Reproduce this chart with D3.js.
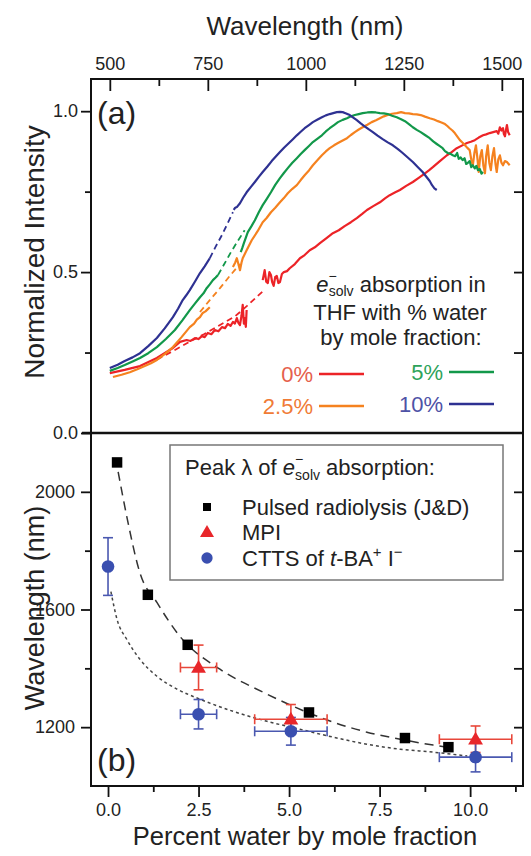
<!DOCTYPE html>
<html><head><meta charset="utf-8">
<script src="https://cdn.jsdelivr.net/npm/d3@7/dist/d3.min.js"></script>
<style>
body{margin:0;background:#fff;}
svg{display:block;font-family:"Liberation Sans",Arial,Helvetica,sans-serif;}
</style></head><body>
<svg id="chart" width="531" height="856"></svg>
<script>
// ---------- Panel (a) data: [wavelength nm, normalized intensity] ----------
const topTicks = [500, 750, 1000, 1250, 1500];
const topMinorTicks = [625, 875, 1125, 1375];
const intensityTicks = [0.0, 0.5, 1.0];
const intensityMinorTicks = [0.25, 0.75];

const red0Solid1 = [[500,0.186],[538,0.196],[577,0.208],[620,0.233],[661,0.264],[679,0.283],[696,0.289],[706,0.286],[717,0.295],[726,0.292],[735,0.301],[742,0.298],[750,0.311],[759,0.307],[768,0.320],[777,0.316],[786,0.329],[794,0.326],[801,0.339],[808,0.333],[814,0.345],[819,0.340],[824,0.357],[828,0.342],[832,0.335],[836,0.365],[839,0.398],[842,0.340],[844,0.357],[847,0.330],[849,0.382]];
const red0Solid2 = [[890,0.475],[895,0.506],[899,0.470],[903,0.466],[907,0.500],[911,0.491],[914,0.470],[918,0.457],[922,0.485],[926,0.488],[930,0.466],[934,0.469],[939,0.494],[944,0.500],[952,0.503],[959,0.512],[972,0.525],[985,0.543],[997,0.553],[1010,0.568],[1023,0.577],[1036,0.590],[1052,0.605],[1069,0.621],[1084,0.630],[1099,0.643],[1115,0.655],[1130,0.668],[1143,0.680],[1156,0.693],[1172,0.705],[1189,0.717],[1202,0.729],[1214,0.739],[1227,0.747],[1240,0.755],[1256,0.768],[1273,0.780],[1288,0.793],[1304,0.807],[1314,0.816],[1324,0.826],[1342,0.845],[1360,0.863],[1372,0.873],[1385,0.885],[1398,0.893],[1411,0.901],[1421,0.905],[1431,0.910],[1441,0.918],[1452,0.925],[1460,0.928],[1469,0.932],[1478,0.935],[1487,0.938],[1491,0.930],[1495,0.950],[1499,0.940],[1503,0.947],[1505,0.930],[1508,0.922],[1511,0.945],[1513,0.957],[1516,0.935],[1520,0.925]];
const red0Dashed = [[620,0.228],[660,0.254],[700,0.281],[740,0.307],[780,0.335],[820,0.363],[850,0.395],[890,0.440]];

const orange25Solid1 = [[508,0.174],[530,0.181],[551,0.189],[570,0.198],[589,0.208],[605,0.217],[620,0.227],[640,0.245],[661,0.267],[683,0.298],[704,0.329],[715,0.340],[722,0.352],[730,0.360],[737,0.373],[744,0.378],[750,0.385],[755,0.391]];
const orange25Solid2 = [[814,0.516],[820,0.530],[824,0.543],[828,0.525],[832,0.506],[836,0.530],[839,0.543],[849,0.568],[862,0.599],[877,0.627],[890,0.655],[900,0.668],[911,0.686],[922,0.700],[934,0.717],[944,0.730],[954,0.745],[965,0.758],[977,0.770],[987,0.786],[997,0.801],[1008,0.816],[1018,0.832],[1030,0.848],[1041,0.863],[1051,0.875],[1061,0.885],[1072,0.894],[1082,0.901],[1094,0.909],[1105,0.916],[1115,0.926],[1125,0.935],[1135,0.943],[1145,0.950],[1157,0.958],[1168,0.966],[1179,0.972],[1189,0.978],[1199,0.984],[1209,0.988],[1220,0.992],[1232,0.994],[1243,0.997],[1253,0.994],[1263,0.993],[1273,0.991],[1283,0.990],[1293,0.988],[1304,0.983],[1316,0.978],[1327,0.974],[1337,0.969],[1346,0.965],[1355,0.960],[1361,0.954],[1367,0.947],[1374,0.940],[1380,0.932],[1387,0.920],[1393,0.910],[1400,0.902],[1406,0.894],[1412,0.886],[1418,0.879],[1422,0.850],[1426,0.832],[1430,0.870],[1434,0.894],[1438,0.850],[1441,0.811],[1445,0.860],[1449,0.879],[1453,0.830],[1457,0.807],[1460,0.860],[1464,0.894],[1468,0.840],[1472,0.817],[1476,0.860],[1480,0.885],[1484,0.835],[1487,0.811],[1491,0.850],[1495,0.863],[1499,0.840],[1503,0.832],[1508,0.845],[1513,0.842],[1520,0.832]];
const orange25Dashed = [[730,0.376],[755,0.413],[781,0.450],[806,0.488],[832,0.525]];

const green5Solid1 = [[500,0.193],[520,0.202],[538,0.211],[558,0.222],[577,0.233],[598,0.248],[620,0.267],[643,0.292],[666,0.320],[685,0.350],[704,0.382],[717,0.402],[730,0.422],[739,0.434],[747,0.450],[755,0.462],[763,0.475],[770,0.483],[776,0.491]];
const green5Solid2 = [[834,0.562],[838,0.575],[842,0.590],[847,0.607],[852,0.624],[861,0.642],[870,0.661],[880,0.686],[890,0.708],[900,0.727],[911,0.748],[922,0.771],[934,0.792],[944,0.808],[954,0.823],[965,0.839],[977,0.854],[987,0.867],[997,0.879],[1008,0.892],[1018,0.904],[1030,0.915],[1041,0.925],[1051,0.937],[1061,0.947],[1072,0.957],[1082,0.966],[1094,0.973],[1105,0.978],[1115,0.984],[1125,0.988],[1135,0.991],[1145,0.994],[1157,0.996],[1168,0.997],[1179,0.996],[1189,0.994],[1199,0.993],[1209,0.991],[1220,0.986],[1232,0.981],[1243,0.975],[1253,0.969],[1263,0.960],[1273,0.950],[1283,0.942],[1293,0.935],[1304,0.926],[1316,0.916],[1325,0.906],[1334,0.898],[1341,0.892],[1349,0.885],[1355,0.876],[1362,0.870],[1368,0.868],[1375,0.863],[1381,0.860],[1386,0.870],[1390,0.852],[1395,0.856],[1400,0.848],[1405,0.854],[1409,0.836],[1413,0.839],[1418,0.845],[1422,0.826],[1426,0.832],[1431,0.822],[1435,0.830],[1439,0.817],[1444,0.820],[1448,0.806],[1452,0.811]];
const green5Dashed = [[776,0.491],[792,0.525],[809,0.562],[826,0.596],[844,0.630]];

const blue10Solid1 = [[500,0.202],[520,0.212],[538,0.224],[558,0.235],[577,0.248],[598,0.270],[620,0.295],[640,0.325],[661,0.360],[674,0.386],[686,0.413],[695,0.428],[704,0.444],[717,0.470],[730,0.497],[742,0.518],[755,0.543]];
const blue10Solid2 = [[816,0.693],[820,0.700],[824,0.702],[832,0.714],[840,0.731],[849,0.748],[860,0.765],[870,0.780],[880,0.796],[890,0.811],[902,0.828],[913,0.845],[924,0.860],[934,0.873],[945,0.887],[957,0.901],[967,0.913],[977,0.925],[987,0.936],[997,0.947],[1008,0.957],[1018,0.966],[1030,0.974],[1041,0.981],[1051,0.987],[1061,0.991],[1070,0.994],[1079,0.997],[1087,0.998],[1094,0.997],[1103,0.993],[1112,0.988],[1121,0.980],[1130,0.972],[1140,0.962],[1150,0.953],[1160,0.944],[1171,0.935],[1183,0.924],[1196,0.913],[1209,0.903],[1222,0.894],[1235,0.882],[1247,0.870],[1260,0.856],[1273,0.842],[1286,0.826],[1298,0.811],[1307,0.797],[1316,0.783],[1322,0.770],[1328,0.760],[1334,0.755]];
const blue10Dashed = [[755,0.543],[770,0.579],[786,0.615],[800,0.650],[814,0.686]];

const legendLabelsA = ["0%", "2.5%", "5%", "10%"];

// ---------- Panel (b) data ----------
const waterTicks = [0, 2.5, 5, 7.5, 10];
const waterMinorTicks = [1.25, 3.75, 6.25, 8.75, 11.25];
const peakTicks = [1200, 1600, 2000];
const peakMinorTicks = [1400, 1800];

const radiolysisX = [0.25, 1.1, 2.2, 5.55, 8.2, 9.4];
const radiolysisY = [2100, 1650, 1480, 1250, 1163, 1132];
const mpiX = [2.5, 5.05, 10.15];
const mpiY = [1403, 1227, 1159];
const mpiXErr = [0.5, 1.0, 1.0];
const mpiYErr = [76, 50, 45];
const cttsX = [0.0, 2.5, 5.05, 10.15];
const cttsY = [1746, 1244, 1186, 1098];
const cttsXErr = [0, 0.5, 1.0, 1.0];
const cttsYErr = [98, 50, 47, 50];
const fitRadiolysisX = [0.28, 0.52, 0.88, 1.35, 1.99, 3.09, 4.28, 5.11, 6.22, 7.15, 8.07, 8.98, 9.36];
const fitRadiolysisY = [2068, 1915, 1725, 1624, 1508, 1397, 1319, 1271, 1217, 1183, 1159, 1139, 1132];
const fitCttsX = [0.08, 0.25, 0.52, 0.88, 1.35, 1.91, 2.54, 3.45, 4.39, 5.30, 6.22, 7.15, 8.07, 8.98, 9.92];
const fitCttsY = [1661, 1566, 1498, 1431, 1373, 1329, 1295, 1254, 1220, 1193, 1166, 1142, 1125, 1115, 1102];
const legendLabelsB = ["Pulsed radiolysis (J&D)", "MPI"];

// ---------- Layout ----------
const L = 91, R = 523, T = 79, MID = 433, B = 786;
const C = {red:"#ec2327", orange:"#f5821f", green:"#12984a", blue:"#2e3192",
           redTxt:"#e5604c", orangeTxt:"#f07b36", greenTxt:"#2ea35a", blueTxt:"#4e52a6",
           mpi:"#e8262a", mpiErr:"#e8473a", ctts:"#3a4fb0", cttsErr:"#4a58b0"};

const svg = d3.select("#chart");
const xTop = d3.scaleLinear().domain([452, 1554]).range([L, R]);
const yA = d3.scaleLinear().domain([0, 1.1]).range([MID, T]);
const xB = d3.scaleLinear().domain([-0.47, 11.46]).range([L, R]);
const yB = d3.scaleLinear().domain([1000, 2200]).range([B, MID]);

function styleAxis(g, fs) {
  g.select(".domain").remove();
  g.selectAll(".tick line").attr("stroke", "#111").attr("stroke-width", 1.8);
  g.selectAll(".tick text").attr("fill", "#222").attr("font-size", fs).attr("font-family", "Liberation Sans, Arial, sans-serif");
}

// ---- Panel (a) axes ----
svg.append("g").attr("transform", `translate(0,${T})`)
  .call(d3.axisTop(xTop).tickValues(topTicks).tickSize(-12).tickPadding(9).tickFormat(d3.format("d")))
  .call(g => styleAxis(g, 18));
svg.append("g").attr("transform", `translate(0,${T})`)
  .call(d3.axisTop(xTop).tickValues(topMinorTicks).tickSize(-7).tickFormat(""))
  .call(g => styleAxis(g, 18));
svg.append("g").attr("transform", `translate(${L},0)`)
  .call(d3.axisLeft(yA).tickValues(intensityTicks).tickSize(10).tickPadding(3).tickFormat(d3.format(".1f")))
  .call(g => styleAxis(g, 18));
svg.append("g").attr("transform", `translate(${L},0)`)
  .call(d3.axisLeft(yA).tickValues(intensityMinorTicks).tickSize(6).tickFormat(""))
  .call(g => styleAxis(g, 18));
svg.append("g").attr("transform", `translate(${R},0)`)
  .call(d3.axisRight(yA).tickValues(intensityTicks.concat(intensityMinorTicks).filter(d => d > 0)).tickSize(-9).tickFormat(""))
  .call(g => styleAxis(g, 18));

// ---- Panel (b) axes ----
svg.append("g").attr("transform", `translate(0,${B})`)
  .call(d3.axisBottom(xB).tickValues(waterTicks).tickSize(11).tickPadding(6).tickFormat(d3.format(".1f")))
  .call(g => styleAxis(g, 18));
svg.append("g").attr("transform", `translate(0,${B})`)
  .call(d3.axisBottom(xB).tickValues(waterMinorTicks).tickSize(6).tickFormat(""))
  .call(g => styleAxis(g, 18));
svg.append("g").attr("transform", `translate(${L},0)`)
  .call(d3.axisLeft(yB).tickValues(peakTicks).tickSize(10).tickPadding(6).tickFormat(d3.format("d")))
  .call(g => styleAxis(g, 18));
svg.append("g").attr("transform", `translate(${L},0)`)
  .call(d3.axisLeft(yB).tickValues(peakMinorTicks).tickSize(6).tickFormat(""))
  .call(g => styleAxis(g, 18));
svg.append("g").attr("transform", `translate(${R},0)`)
  .call(d3.axisRight(yB).tickValues(peakTicks.concat(peakMinorTicks)).tickSize(-9).tickFormat(""))
  .call(g => styleAxis(g, 18));

// ---- Panel (a) curves ----
const lineA = d3.line().x(d => xTop(d[0])).y(d => yA(d[1]));
const gA = svg.append("g");
const spectra = [
  {c:C.red, solid:[red0Solid1, red0Solid2], dashed:red0Dashed},
  {c:C.orange, solid:[orange25Solid1, orange25Solid2], dashed:orange25Dashed},
  {c:C.green, solid:[green5Solid1, green5Solid2], dashed:green5Dashed},
  {c:C.blue, solid:[blue10Solid1, blue10Solid2], dashed:blue10Dashed}
];
spectra.forEach(s => {
  gA.append("path").attr("d", lineA(s.dashed)).attr("fill", "none").attr("stroke", s.c)
    .attr("stroke-width", 1.8).attr("stroke-dasharray", "6,4");
});
spectra.forEach(s => {
  s.solid.forEach(seg => {
    gA.append("path").attr("d", lineA(seg)).attr("fill", "none").attr("stroke", s.c)
      .attr("stroke-width", 2.2).attr("stroke-linejoin", "round");
  });
});

// Legend text (a)
const ta = svg.append("g").attr("font-size", 22).attr("fill", "#222").attr("text-anchor", "middle");
const l1 = ta.append("text").attr("x", 401).attr("y", 292);
l1.append("tspan").attr("font-style", "italic").text("e");
l1.append("tspan").attr("font-size", 14).attr("dy", -11).text("\u2212");
l1.append("tspan").attr("font-size", 14).attr("dx", "-0.584em").attr("dy", 15).text("solv");
l1.append("tspan").attr("dy", -4).text(" absorption in");
ta.append("text").attr("x", 400).attr("y", 320).text("THF with % water");
ta.append("text").attr("x", 401).attr("y", 345).text("by mole fraction:");

const legA = [
  {t:legendLabelsA[0], c:C.red, tc:C.redTxt, x:313, y:374},
  {t:legendLabelsA[1], c:C.orange, tc:C.orangeTxt, x:313, y:406},
  {t:legendLabelsA[2], c:C.green, tc:C.greenTxt, x:443, y:372},
  {t:legendLabelsA[3], c:C.blue, tc:C.blueTxt, x:443, y:404}
];
legA.forEach(d => {
  svg.append("text").attr("x", d.x).attr("y", d.y + 8).attr("text-anchor", "end")
    .attr("font-size", 22).attr("fill", d.tc).text(d.t);
  svg.append("line").attr("x1", d.x + 6).attr("x2", d.x + 51).attr("y1", d.y).attr("y2", d.y)
    .attr("stroke", d.c).attr("stroke-width", 2.4);
});

// ---- Panel (b) ----
const gB = svg.append("g");
const lineB = d3.line().x(d => xB(d[0])).y(d => yB(d[1])).curve(d3.curveMonotoneX);
gB.append("path").attr("d", lineB(fitRadiolysisX.map((v, i) => [v, fitRadiolysisY[i]])))
  .attr("fill", "none").attr("stroke", "#333").attr("stroke-width", 1.5).attr("stroke-dasharray", "9,6");
gB.append("path").attr("d", lineB(fitCttsX.map((v, i) => [v, fitCttsY[i]])))
  .attr("fill", "none").attr("stroke", "#444").attr("stroke-width", 1.5).attr("stroke-dasharray", "3,3");

function errorBars(xs, ys, xe, ye, color) {
  const g = gB.append("g").attr("stroke", color).attr("stroke-width", 1.6);
  xs.forEach((v, i) => {
    const cx = xB(v), cy = yB(ys[i]);
    if (ye[i] > 0) {
      const y1 = yB(ys[i] + ye[i]), y2 = yB(ys[i] - ye[i]);
      g.append("line").attr("x1", cx).attr("x2", cx).attr("y1", y1).attr("y2", y2);
      g.append("line").attr("x1", cx - 5).attr("x2", cx + 5).attr("y1", y1).attr("y2", y1);
      g.append("line").attr("x1", cx - 5).attr("x2", cx + 5).attr("y1", y2).attr("y2", y2);
    }
    if (xe[i] > 0) {
      const x1 = xB(v - xe[i]), x2 = xB(v + xe[i]);
      g.append("line").attr("x1", x1).attr("x2", x2).attr("y1", cy).attr("y2", cy);
      g.append("line").attr("x1", x1).attr("x2", x1).attr("y1", cy - 5).attr("y2", cy + 5);
      g.append("line").attr("x1", x2).attr("x2", x2).attr("y1", cy - 5).attr("y2", cy + 5);
    }
  });
}
errorBars(mpiX, mpiY, mpiXErr, mpiYErr, C.mpiErr);
errorBars(cttsX, cttsY, cttsXErr, cttsYErr, C.cttsErr);

const tri = d3.symbol().type(d3.symbolTriangle).size(95);
const circ = d3.symbol().type(d3.symbolCircle).size(125);
const sq = d3.symbol().type(d3.symbolSquare).size(110);
radiolysisX.forEach((v, i) => gB.append("path").attr("d", sq())
  .attr("transform", `translate(${xB(v)},${yB(radiolysisY[i])})`).attr("fill", "#000"));
mpiX.forEach((v, i) => gB.append("path").attr("d", tri())
  .attr("transform", `translate(${xB(v)},${yB(mpiY[i]) + 1})`).attr("fill", C.mpi));
cttsX.forEach((v, i) => gB.append("path").attr("d", circ())
  .attr("transform", `translate(${xB(v)},${yB(cttsY[i])})`).attr("fill", C.ctts));

// Legend (b)
svg.append("rect").attr("x", 170).attr("y", 445).attr("width", 333).attr("height", 135)
  .attr("fill", "#fff").attr("stroke", "#777").attr("stroke-width", 1.5);
const lt = svg.append("text").attr("x", 185).attr("y", 475).attr("font-size", 22).attr("fill", "#222");
lt.append("tspan").text("Peak \u03bb of ");
lt.append("tspan").attr("font-style", "italic").text("e");
lt.append("tspan").attr("font-size", 14).attr("dy", -11).text("\u2212");
lt.append("tspan").attr("font-size", 14).attr("dx", "-0.584em").attr("dy", 16).text("solv");
lt.append("tspan").attr("dy", -5).text(" absorption:");
svg.append("path").attr("d", d3.symbol().type(d3.symbolSquare).size(64)()).attr("transform", "translate(207,507)").attr("fill", "#000");
svg.append("path").attr("d", d3.symbol().type(d3.symbolTriangle).size(85)()).attr("transform", "translate(207,533)").attr("fill", C.mpi);
svg.append("path").attr("d", d3.symbol().type(d3.symbolCircle).size(100)()).attr("transform", "translate(207,558)").attr("fill", C.ctts);
svg.append("text").attr("x", 242).attr("y", 515).attr("font-size", 22).attr("fill", "#222").text(legendLabelsB[0]);
svg.append("text").attr("x", 242).attr("y", 540).attr("font-size", 22).attr("fill", "#222").text(legendLabelsB[1]);
const l3 = svg.append("text").attr("x", 242).attr("y", 566).attr("font-size", 22).attr("fill", "#222");
l3.append("tspan").text("CTTS of ");
l3.append("tspan").attr("font-style", "italic").text("t");
l3.append("tspan").text("-BA");
l3.append("tspan").attr("font-size", 15).attr("dy", -9).text("+");
l3.append("tspan").attr("dy", 9).text(" I");
l3.append("tspan").attr("font-size", 15).attr("dy", -9).text("\u2212");

// ---- Frame ----
svg.append("rect").attr("x", L).attr("y", T).attr("width", R - L).attr("height", B - T)
  .attr("fill", "none").attr("stroke", "#111").attr("stroke-width", 2);
svg.append("line").attr("x1", L - 9).attr("x2", R).attr("y1", MID).attr("y2", MID)
  .attr("stroke", "#111").attr("stroke-width", 2.4);

// ---- Titles & panel labels ----
svg.append("text").attr("x", 305).attr("y", 35).attr("text-anchor", "middle").attr("font-size", 26).attr("fill", "#222").text("Wavelength (nm)");
svg.append("text").attr("x", 305).attr("y", 845).attr("text-anchor", "middle").attr("font-size", 25.5).attr("fill", "#222").text("Percent water by mole fraction");
svg.append("text").attr("transform", "translate(44,252) rotate(-90)").attr("text-anchor", "middle").attr("font-size", 28).attr("fill", "#222").text("Normalized Intensity");
svg.append("text").attr("transform", "translate(44,608) rotate(-90)").attr("text-anchor", "middle").attr("font-size", 27).attr("fill", "#222").text("Wavelength (nm)");
svg.append("text").attr("x", 97).attr("y", 124).attr("font-size", 32).attr("fill", "#222").text("(a)");
svg.append("text").attr("x", 97).attr("y", 771).attr("font-size", 32).attr("fill", "#222").text("(b)");
</script>
</body></html>
